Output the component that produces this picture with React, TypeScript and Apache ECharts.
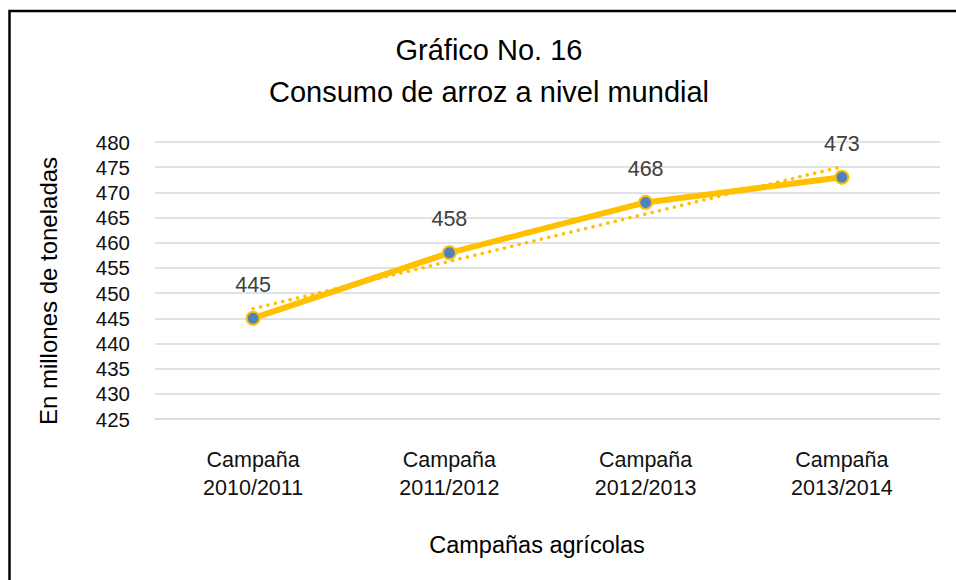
import React, { useEffect, useRef } from "react";
import * as echarts from "echarts";

const titleLines = ["Gráfico No. 16", "Consumo de arroz a nivel mundial"];
const categories = ["Campaña\n2010/2011", "Campaña\n2011/2012", "Campaña\n2012/2013", "Campaña\n2013/2014"];
const consumo = [445, 458, 468, 473];
const tendencia = [446.9, 456.3, 465.7, 475.1];
const yAxisTitle = "En millones de toneladas";
const xAxisTitle = "Campañas agrícolas";
const yMin = 425;
const yMax = 480;
const yStep = 5;

const FONT = "'Liberation Sans', Arial, sans-serif";

export default function App() {
  const ref = useRef<HTMLDivElement>(null);
  useEffect(() => {
    if (!ref.current) return;
    const chart = echarts.init(ref.current, undefined, { renderer: "svg" });
    chart.setOption({
      animation: false,
      backgroundColor: "#ffffff",
      textStyle: { fontFamily: FONT },
      grid: { left: 155, right: 16, top: 142, bottom: 161, containLabel: false },
      xAxis: {
        type: "category",
        data: categories,
        boundaryGap: true,
        axisLine: { show: true, lineStyle: { color: "#D9D9D9", width: 1.5 } },
        axisTick: { show: false },
        axisLabel: { fontSize: 21.5, lineHeight: 28, color: "#111", margin: 27, fontFamily: FONT },
      },
      yAxis: {
        type: "value",
        min: yMin,
        max: yMax,
        interval: yStep,
        axisLine: { show: false },
        axisTick: { show: false },
        axisLabel: { fontSize: 20.5, color: "#111", margin: 25, fontFamily: FONT },
        splitLine: { show: true, lineStyle: { color: "#D9D9D9", width: 1.5 } },
      },
      series: [
        {
          type: "line",
          name: "Tendencia",
          data: tendencia,
          symbol: "none",
          silent: true,
          z: 2,
          lineStyle: { color: "#FFC000", width: 3.5, type: [0.1, 7.5], cap: "round" },
        },
        {
          type: "line",
          name: "Consumo",
          data: consumo,
          z: 3,
          symbol: "circle",
          symbolSize: 13,
          lineStyle: { color: "#FFC000", width: 6 },
          itemStyle: { color: "#4F81BD", borderColor: "#FFC000", borderWidth: 2 },
          label: {
            show: true,
            position: "top",
            distance: 15,
            fontSize: 21.5,
            color: "#404040",
            fontFamily: FONT,
          },
        },
      ],
      graphic: [
        {
          type: "rect",
          shape: { x: 9.5, y: 11, width: 2000, height: 2000 },
          style: { fill: "none", stroke: "#000", lineWidth: 2.5 },
          silent: true,
          z: 100,
        },
        {
          type: "text",
          x: 489,
          y: 50,
          style: { text: titleLines[0], font: `29px ${FONT}`, fill: "#000", align: "center", verticalAlign: "middle" },
        },
        {
          type: "text",
          x: 489,
          y: 92,
          style: { text: titleLines[1], font: `29px ${FONT}`, fill: "#000", align: "center", verticalAlign: "middle" },
        },
        {
          type: "text",
          x: 48,
          y: 291,
          rotation: Math.PI / 2,
          style: { text: yAxisTitle, font: `24px ${FONT}`, fill: "#000", align: "center", verticalAlign: "middle" },
        },
        {
          type: "text",
          x: 537,
          y: 545,
          style: { text: xAxisTitle, font: `23.5px ${FONT}`, fill: "#000", align: "center", verticalAlign: "middle" },
        },
      ],
    });
    return () => chart.dispose();
  }, []);
  return <div ref={ref} style={{ position: "fixed", left: 0, top: 0, width: 956, height: 580 }} />;
}
